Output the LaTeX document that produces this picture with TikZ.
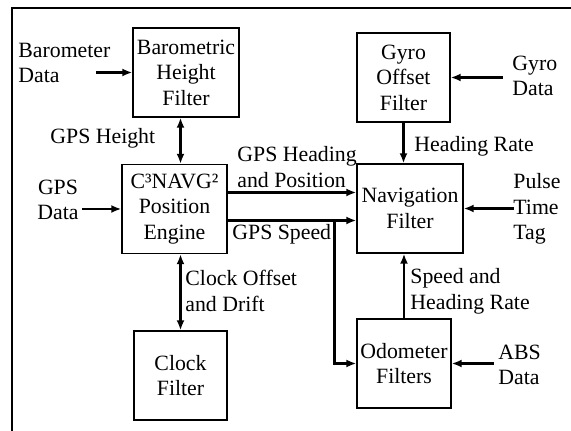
\documentclass[tikz,border=0pt]{standalone}
\usepackage{fontspec}
\setmainfont{Liberation Serif}
\usetikzlibrary{arrows.meta,positioning}

\begin{document}
\begin{tikzpicture}[x=0.5pt, y=-0.5pt,
    every node/.style={font=\fontsize{10.9}{12.8}\selectfont},
    filt/.style={draw, line width=0.7pt, align=center, inner sep=0pt,
        minimum height=44.5pt},
    lbl/.style={anchor=west, align=left, inner sep=0pt},
    arr/.style={line width=1.3pt, -{Latex[length=5pt,width=4pt]}},
    dbl/.style={line width=1.3pt, {Latex[length=5pt,width=4pt]}-{Latex[length=5pt,width=4pt]}}]
    \useasboundingbox (0,0) rectangle (571,431);
    % Frame (only left and top edges survive)
    \draw[line width=0.8pt] (12,431) -- (12,8) -- (571,8);

    % Filter boxes
    \node[filt, minimum width=53pt] (baro) at (186,72.5) {Barometric\\Height\\Filter};
    \node[filt, minimum width=52.5pt] (eng) at (174.5,209) {C³NAVG²\\Position\\Engine};
    \node[filt, minimum width=46.5pt] (clk) at (180.5,375.5) {Clock\\Filter};
    \node[filt, minimum width=46.5pt] (gyro) at (403.5,77.5) {Gyro\\Offset\\Filter};
    \node[filt, minimum width=53pt] (nav) at (410,208.5) {Navigation\\Filter};
    \node[filt, minimum width=47pt] (odo) at (404,363.5) {Odometer\\Filters};

    % Sensor inputs
    \node[lbl] (barolbl) at (18,63) {Barometer\\Data};
    \node[align=center, inner sep=0pt] (gpslbl) at (58,200) {GPS\\Data};
    \node[lbl] (gyrolbl) at (512,76) {Gyro\\Data};
    \node[lbl] (pulselbl) at (513,209) {Pulse\\Time\\Tag};
    \node[lbl] (abslbl) at (498,365) {ABS\\Data};
    \coordinate[left=18pt of baro.west] (baroin);
    \coordinate[left=19.5pt of eng.west] (gpsin);
    \coordinate[right=26pt of gyro.east] (gyroin);
    \coordinate[right=25pt of nav.east] (pulsein);
    \coordinate[right=21pt of odo.east] (absin);
    \draw[arr] (baroin) -- (baro.west);
    \draw[arr] (gpsin) -- (eng.west);
    \draw[arr] (gyroin) -- (gyro.east);
    \draw[arr] (pulsein) -- (nav.east);
    \draw[arr] (absin) -- (odo.east);

    % Links between filters
    \draw[dbl] (clk.north |- baro.south) -- (clk.north |- eng.north);
    \draw[dbl] (clk.north |- eng.south) -- (clk.north);
    \draw[arr] (gyro.south) -- (gyro.south |- nav.north);
    \draw[arr] (odo.north) -- (odo.north |- nav.south);
    \coordinate (hdg) at ([yshift=8.25pt]eng.east);
    \coordinate (spd) at ([yshift=-5.75pt]eng.east);
    \coordinate[left=11pt of spd -| nav.west] (split);
    \draw[arr] (hdg) -- (hdg -| nav.west);
    \draw[arr] (spd) -- (spd -| nav.west);
    \draw[arr] (split) |- (odo.west);

    % Link labels
    \node[lbl] (hgtlbl) at (50,138) {GPS Height};
    \node[lbl] (hdglbl) at (237,167) {GPS Heading\\and Position};
    \node[lbl] (spdlbl) at (232,234) {GPS Speed};
    \node[lbl] (clklbl) at (185,291) {Clock Offset\\and Drift};
    \node[lbl] (ratelbl) at (414,146) {Heading Rate};
    \node[lbl] (odolbl) at (410,291) {Speed and\\Heading Rate};
\end{tikzpicture}
\end{document}
